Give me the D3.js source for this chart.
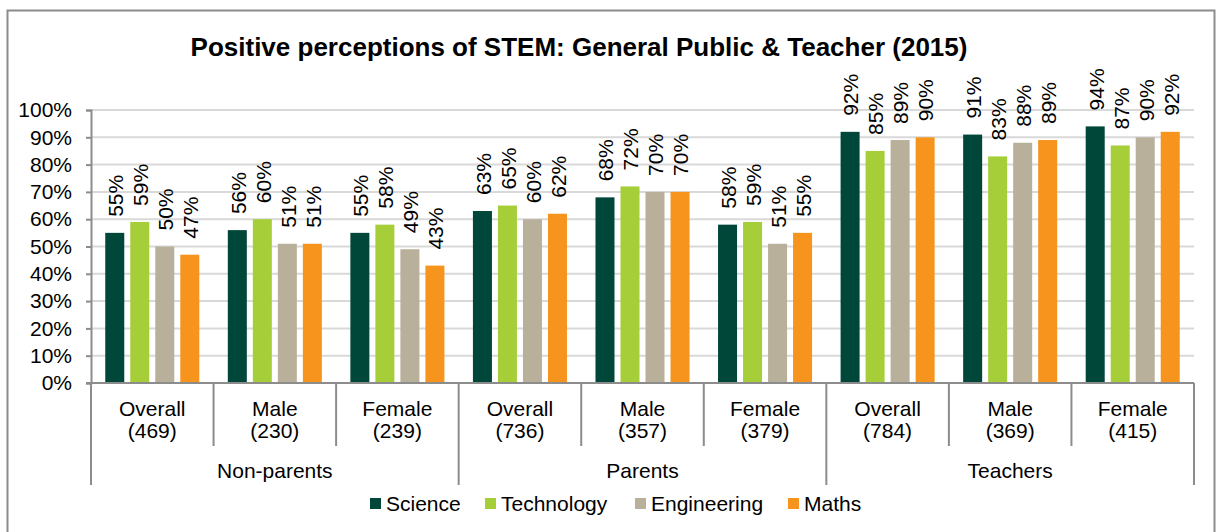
<!DOCTYPE html>
<html>
<head>
<meta charset="utf-8">
<script src="https://cdn.jsdelivr.net/npm/d3@7"></script>
<style>
  body { margin: 0; background: #fff; }
  text { font-family: "Liberation Sans", Arial, sans-serif; fill: #000; }
</style>
</head>
<body>
<svg width="1220" height="532"></svg>
<script>
// data
var series = ["Science", "Technology", "Engineering", "Maths"];
var colors = ["#00473a", "#a6ce39", "#b8b09a", "#f7941d"];
var groups = ["Non-parents", "Parents", "Teachers"];
var subLabels = ["Overall", "Male", "Female", "Overall", "Male", "Female", "Overall", "Male", "Female"];
var counts = ["(469)", "(230)", "(239)", "(736)", "(357)", "(379)", "(784)", "(369)", "(415)"];
var science     = [55, 56, 55, 63, 68, 58, 92, 91, 94];
var technology  = [59, 60, 58, 65, 72, 59, 85, 83, 87];
var engineering = [50, 51, 49, 60, 70, 51, 89, 88, 90];
var maths       = [47, 51, 43, 62, 70, 55, 90, 89, 92];
var yTicks = [0, 10, 20, 30, 40, 50, 60, 70, 80, 90, 100];

var values = [science, technology, engineering, maths];

var svg = d3.select("svg");
var plotL = 91, plotR = 1194, plotT = 110, plotB = 383;
var fs = "21px";

// outer frame
svg.append("rect")
  .attr("x", 7.5).attr("y", 10.5)
  .attr("width", 1207).attr("height", 530)
  .attr("fill", "none").attr("stroke", "#8c8c8c").attr("stroke-width", 2);

svg.append("text")
  .attr("x", 579).attr("y", 56)
  .attr("text-anchor", "middle")
  .style("font-weight", "bold").style("font-size", "26px")
  .text("Positive perceptions of STEM: General Public & Teacher (2015)");

var y = d3.scaleLinear().domain([0, 100]).range([plotB, plotT]);
var x0 = d3.scaleBand().domain(d3.range(subLabels.length)).range([plotL, plotR]);
var x1 = d3.scaleBand().domain(series).range([0, x0.bandwidth()])
  .paddingInner(0.24).paddingOuter(0.57);

// gridlines
svg.append("g").selectAll("line")
  .data(yTicks.slice(1))
  .enter().append("line")
  .attr("x1", plotL).attr("x2", plotR)
  .attr("y1", function(d) { return y(d); })
  .attr("y2", function(d) { return y(d); })
  .attr("stroke", "#d9d9d9").attr("stroke-width", 2);

// y axis
var yAxis = svg.append("g")
  .attr("transform", "translate(" + plotL + ",0)")
  .call(d3.axisLeft(y).tickValues(yTicks).tickFormat(function(d) { return d + "%"; })
    .tickSize(5).tickPadding(14));
yAxis.select(".domain").attr("stroke", "#8c8c8c").attr("stroke-width", 2);
yAxis.selectAll(".tick line").attr("stroke", "#8c8c8c").attr("stroke-width", 2);
yAxis.selectAll(".tick text")
  .style("font-size", fs).style("font-family", "Liberation Sans, Arial, sans-serif")
  .attr("fill", "#000");

// bars
var cat = svg.append("g").selectAll("g")
  .data(d3.range(subLabels.length))
  .enter().append("g")
  .attr("transform", function(i) { return "translate(" + x0(i) + ",0)"; });

function rows(i) {
  return series.map(function(s, k) { return {s: s, k: k, v: values[k][i]}; });
}

cat.selectAll("rect")
  .data(rows)
  .enter().append("rect")
  .attr("x", function(d) { return x1(d.s); })
  .attr("y", function(d) { return y(d.v); })
  .attr("width", x1.bandwidth())
  .attr("height", function(d) { return plotB - y(d.v); })
  .attr("fill", function(d) { return colors[d.k]; });

cat.selectAll("text")
  .data(rows)
  .enter().append("text")
  .attr("transform", function(d) {
    return "translate(" + (x1(d.s) + x1.bandwidth() / 2 + 1) + "," + (y(d.v) - 16) + ") rotate(-90)";
  })
  .attr("dy", "0.35em")
  .style("font-size", fs)
  .text(function(d) { return d.v + "%"; });

// x axis line
svg.append("line")
  .attr("x1", plotL - 5).attr("x2", plotR)
  .attr("y1", plotB).attr("y2", plotB)
  .attr("stroke", "#8c8c8c").attr("stroke-width", 2);

// category dividers
svg.append("g").selectAll("line")
  .data(d3.range(subLabels.length + 1))
  .enter().append("line")
  .attr("x1", function(i) { return i < subLabels.length ? x0(i) : plotR; })
  .attr("x2", function(i) { return i < subLabels.length ? x0(i) : plotR; })
  .attr("y1", plotB)
  .attr("y2", function(i) { return i % 3 == 0 ? 485 : 446; })
  .attr("stroke", "#8c8c8c").attr("stroke-width", 2);

var lab = svg.append("g").selectAll("text")
  .data(d3.range(subLabels.length))
  .enter().append("text")
  .attr("text-anchor", "middle")
  .style("font-size", fs);
lab.append("tspan")
  .attr("x", function(i) { return x0(i) + x0.bandwidth() / 2; })
  .attr("y", 416)
  .text(function(i) { return subLabels[i]; });
lab.append("tspan")
  .attr("x", function(i) { return x0(i) + x0.bandwidth() / 2; })
  .attr("y", 438)
  .text(function(i) { return counts[i]; });

svg.append("g").selectAll("text")
  .data(groups)
  .enter().append("text")
  .attr("x", function(d, i) { return x0(i * 3) + x0.bandwidth() * 1.5; })
  .attr("y", 478)
  .attr("text-anchor", "middle")
  .style("font-size", fs)
  .text(function(d) { return d; });

// legend
var legendX = [370, 485, 635, 788];
var leg = svg.append("g").selectAll("g")
  .data(series)
  .enter().append("g")
  .attr("transform", function(d, i) { return "translate(" + legendX[i] + ",498)"; });
leg.append("rect")
  .attr("width", 11).attr("height", 11)
  .attr("fill", function(d, i) { return colors[i]; });
leg.append("text")
  .attr("x", 16).attr("y", 13)
  .style("font-size", fs)
  .text(function(d) { return d; });
</script>
</body>
</html>
